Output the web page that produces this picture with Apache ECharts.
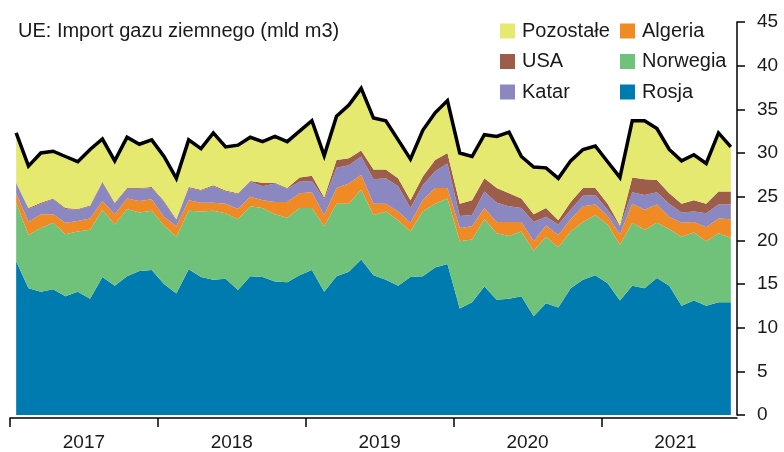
<!DOCTYPE html>
<html>
<head>
<meta charset="utf-8">
<script src="https://cdn.jsdelivr.net/npm/echarts@6/dist/echarts.min.js"></script>
<style>
  html, body { margin: 0; padding: 0; background: #fff; }
  #chart { width: 784px; height: 452px; }
</style>
</head>
<body>
<div id="chart"></div>
<script>
// monthly data, Jan 2017 - Nov 2021 (mld m3)
const years = ['2017', '2018', '2019', '2020', '2021'];

const rosja = [17.6, 14.5, 14.1, 14.4, 13.6, 14.1, 13.3, 15.8, 14.8, 15.9, 16.5, 16.6,
  15.0, 13.9, 16.7, 15.8, 15.5, 15.6, 14.3, 15.9, 15.8, 15.3, 15.2, 16.0,
  16.6, 14.1, 15.9, 16.4, 17.8, 16.0, 15.5, 14.8, 15.8, 15.9, 16.9, 17.3,
  12.2, 12.9, 14.7, 13.2, 13.3, 13.6, 11.3, 12.8, 12.3, 14.5, 15.5, 16.0,
  15.1, 13.1, 14.8, 14.5, 15.7, 14.8, 12.5, 13.1, 12.5, 12.9, 12.9];
const norwegia = [6.7, 6.1, 7.3, 7.6, 7.1, 6.9, 7.9, 7.7, 7.0, 7.7, 6.7, 6.8,
  6.7, 6.5, 6.7, 7.5, 7.9, 7.5, 8.1, 8.0, 7.9, 7.7, 7.4, 7.7,
  7.1, 7.5, 8.3, 7.8, 8.0, 6.9, 7.8, 7.5, 5.2, 7.4, 7.3, 7.5,
  7.7, 7.2, 7.7, 7.6, 7.2, 7.4, 7.5, 7.6, 6.9, 6.5, 6.6, 6.9,
  6.7, 6.4, 7.2, 6.7, 6.3, 6.5, 7.9, 7.8, 7.4, 7.9, 7.4];
const algeria = [1.1, 1.5, 1.6, 1.0, 1.3, 1.2, 1.3, 1.0, 1.2, 1.2, 1.3, 1.3,
  1.0, 1.2, 1.2, 1.0, 0.9, 1.1, 1.2, 1.1, 0.9, 1.4, 1.8, 1.7,
  1.8, 1.3, 1.8, 2.3, 1.7, 1.3, 0.9, 1.0, 1.0, 1.3, 1.8, 1.2,
  1.5, 1.5, 1.3, 1.3, 1.6, 1.1, 1.1, 1.3, 1.4, 1.4, 1.8, 1.2,
  1.0, 1.2, 2.2, 2.3, 2.1, 1.4, 1.6, 1.2, 1.6, 1.7, 2.1];
const katar = [1.1, 1.5, 1.2, 1.7, 1.6, 1.3, 1.4, 2.1, 1.2, 1.1, 1.4, 1.3,
  1.7, 0.7, 1.4, 1.4, 1.9, 1.4, 1.7, 1.7, 1.6, 2.1, 1.5, 1.3,
  1.3, 1.8, 2.3, 2.1, 2.1, 2.8, 2.9, 2.9, 1.7, 1.7, 1.9, 2.8,
  1.4, 1.3, 1.9, 2.2, 1.8, 1.6, 2.2, 1.0, 1.2, 1.1, 1.2, 1.1,
  0.7, 0.9, 1.3, 1.7, 1.4, 1.5, 1.2, 1.2, 1.6, 1.6, 1.7];
const usa = [0.1, 0.1, 0.1, 0.1, 0.1, 0.1, 0.1, 0.1, 0.1, 0.1, 0.1, 0.1,
  0.1, 0.1, 0.1, 0.1, 0.1, 0.1, 0.1, 0.1, 0.4, 0.1, 0.1, 0.5,
  0.6, 0.2, 0.9, 0.8, 0.7, 1.1, 1.0, 0.9, 0.9, 1.0, 1.3, 1.2,
  1.4, 1.7, 1.5, 1.7, 1.5, 1.1, 0.9, 1.0, 0.5, 0.9, 0.9, 0.8,
  0.7, 0.1, 1.7, 1.8, 1.4, 1.2, 1.0, 1.3, 1.1, 1.5, 1.5];
const pozostale = [5.7, 4.8, 5.7, 5.4, 5.9, 5.4, 6.4, 4.9, 4.8, 5.8, 5.0, 5.4,
  5.1, 4.7, 5.4, 4.7, 6.0, 5.0, 5.5, 5.0, 4.7, 5.3, 5.3, 5.3,
  6.3, 4.8, 5.0, 6.1, 7.1, 5.9, 5.6, 4.4, 4.7, 5.3, 5.4, 6.0,
  5.8, 5.0, 5.0, 5.9, 7.0, 4.8, 5.4, 4.6, 4.8, 4.7, 4.4, 4.8,
  4.8, 5.5, 6.5, 6.7, 5.9, 5.0, 4.9, 5.2, 4.6, 6.7, 5.1];
const razem = [32.3, 28.5, 30.0, 30.2, 29.6, 29.0, 30.4, 31.6, 29.1, 31.8, 31.0, 31.5,
  29.6, 27.1, 31.5, 30.5, 32.3, 30.7, 30.9, 31.8, 31.3, 31.9, 31.3, 32.5,
  33.7, 29.7, 34.2, 35.5, 37.4, 34.0, 33.7, 31.5, 29.3, 32.6, 34.6, 36.0,
  30.0, 29.6, 32.1, 31.9, 32.4, 29.6, 28.4, 28.3, 27.1, 29.1, 30.4, 30.8,
  29.0, 27.2, 33.7, 33.7, 32.8, 30.4, 29.1, 29.8, 28.8, 32.3, 30.7];

const months = rosja.map((_, i) => years[Math.floor(i / 12)] + '-' + String(i % 12 + 1).padStart(2, '0'));

const FONT = '"Liberation Sans", Arial, sans-serif';
const INK = '#1a1a1a';

function area(name, data, color) {
  return {
    name: name,
    type: 'line',
    stack: 'import',
    data: data,
    symbol: 'none',
    lineStyle: { width: 0 },
    areaStyle: { color: color, opacity: 1 },
    itemStyle: { color: color },
    emphasis: { disabled: true }
  };
}

const chart = echarts.init(document.getElementById('chart'), null, { renderer: 'canvas' });

const legendBase = {
  orient: 'vertical',
  top: 21,
  padding: 0,
  itemWidth: 15,
  itemHeight: 15,
  itemGap: 10.5,
  icon: 'rect',
  selectedMode: false,
  textStyle: { fontFamily: FONT, fontSize: 20, color: INK, padding: [0, 0, 0, 2] }
};

const option = {
  backgroundColor: '#fff',
  animation: false,
  textStyle: { fontFamily: FONT },
  title: {
    text: 'UE: Import gazu ziemnego (mld m3)',
    left: 18,
    top: 21,
    padding: 0,
    textStyle: { fontFamily: FONT, fontSize: 20, fontWeight: 'normal', color: INK }
  },
  legend: [
    Object.assign({}, legendBase, { left: 500, data: ['Pozostałe', 'USA', 'Katar'] }),
    Object.assign({}, legendBase, { left: 620, data: ['Algeria', 'Norwegia', 'Rosja'] })
  ],
  grid: { left: 10, right: 47, top: 22, bottom: 37 },
  xAxis: [{
    // data axis: one band per month
    type: 'category',
    data: months,
    boundaryGap: true,
    show: false
  }, {
    // display axis: year ticks and centred year labels
    type: 'value',
    min: 0,
    max: 59,
    offset: 3,
    position: 'bottom',
    splitLine: { show: false },
    axisLine: { show: true, onZero: false, lineStyle: { color: '#000', width: 1.5 } },
    axisTick: {
      show: true,
      length: 9,
      customValues: [0, 12, 24, 36, 48],
      lineStyle: { color: '#000', width: 1.5 }
    },
    axisLabel: {
      customValues: [6, 18, 30, 42, 54],
      formatter: v => years[Math.round((v - 6) / 12)],
      margin: 15,
      fontFamily: FONT,
      fontSize: 19,
      color: INK
    }
  }],
  yAxis: {
    type: 'value',
    position: 'right',
    min: 0,
    max: 45,
    interval: 5,
    splitLine: { show: false },
    axisLine: { show: true, onZero: false, lineStyle: { color: '#000', width: 1.5 } },
    axisTick: { show: true, length: 8, lineStyle: { color: '#000', width: 1.5 } },
    axisLabel: {
      margin: 20,
      fontFamily: FONT,
      fontSize: 19,
      color: INK
    }
  },
  series: [
    area('Rosja', rosja, '#007BB0'),
    area('Norwegia', norwegia, '#70C27B'),
    area('Algeria', algeria, '#EF8A24'),
    area('Katar', katar, '#8B87C0'),
    area('USA', usa, '#9C5D4B'),
    area('Pozostałe', pozostale, '#E5E970'),
    {
      name: 'Razem',
      type: 'line',
      data: razem,
      symbol: 'none',
      lineStyle: { color: '#000', width: 3.5, join: 'miter' },
      z: 5,
      emphasis: { disabled: true }
    }
  ]
};

chart.setOption(option);
</script>
</body>
</html>
